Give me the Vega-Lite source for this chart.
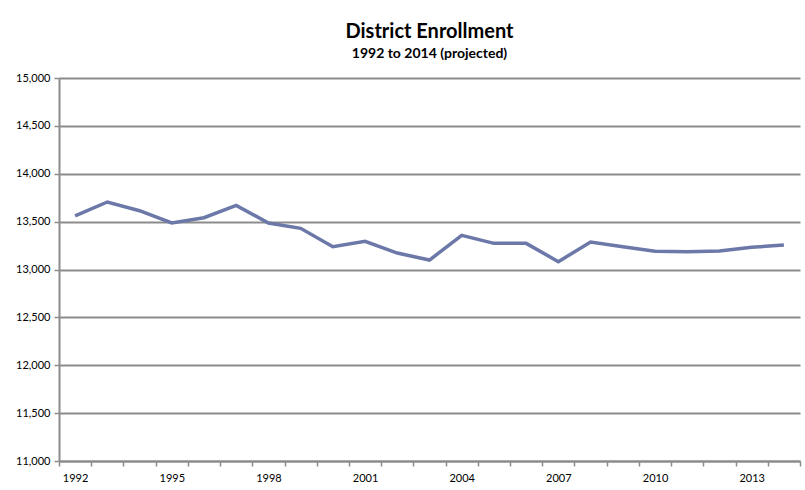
{
  "$schema": "https://vega.github.io/schema/vega-lite/v6.json",
  "width": 741,
  "height": 383,
  "autosize": {"type": "none"},
  "padding": {"left": 59, "top": 78, "right": 5, "bottom": 29},
  "background": "white",
  "title": {
    "text": "District Enrollment",
    "subtitle": "1992 to 2014 (projected)",
    "anchor": "middle",
    "font": "Lato",
    "fontSize": 20,
    "fontWeight": "bold",
    "color": "#000000",
    "subtitleFont": "Lato",
    "subtitleFontSize": 14,
    "subtitleFontWeight": "bold",
    "subtitleColor": "#000000",
    "subtitlePadding": 5,
    "offset": 11
  },
  "data": {
    "values": [
      {"Year": 1992, "Enrollment": 13560},
      {"Year": 1993, "Enrollment": 13705},
      {"Year": 1994, "Enrollment": 13614},
      {"Year": 1995, "Enrollment": 13486},
      {"Year": 1996, "Enrollment": 13541},
      {"Year": 1997, "Enrollment": 13670},
      {"Year": 1998, "Enrollment": 13486},
      {"Year": 1999, "Enrollment": 13430},
      {"Year": 2000, "Enrollment": 13238},
      {"Year": 2001, "Enrollment": 13294},
      {"Year": 2002, "Enrollment": 13172},
      {"Year": 2003, "Enrollment": 13099},
      {"Year": 2004, "Enrollment": 13357},
      {"Year": 2005, "Enrollment": 13273},
      {"Year": 2006, "Enrollment": 13273},
      {"Year": 2007, "Enrollment": 13082},
      {"Year": 2008, "Enrollment": 13287},
      {"Year": 2009, "Enrollment": 13238},
      {"Year": 2010, "Enrollment": 13190},
      {"Year": 2011, "Enrollment": 13185},
      {"Year": 2012, "Enrollment": 13193},
      {"Year": 2013, "Enrollment": 13232},
      {"Year": 2014, "Enrollment": 13256}
    ]
  },
  "mark": {"type": "line", "color": "#6b78a8", "strokeWidth": 3.5, "strokeJoin": "miter"},
  "encoding": {
    "x": {
      "field": "Year",
      "type": "ordinal",
      "scale": {"type": "band", "paddingInner": 0, "paddingOuter": 0},
      "axis": {
        "title": null,
        "labelAngle": 0,
        "tickBand": "extent",
        "labelExpr": "(datum.value - 1992) % 3 == 0 ? datum.label : ''",
        "domainColor": "#8c8c8c",
        "domainWidth": 2,
        "tickColor": "#8c8c8c",
        "tickWidth": 1.5,
        "tickSize": 5,
        "labelFont": "Lato",
        "labelFontSize": 11,
        "labelColor": "#000000",
        "labelPadding": 6,
        "grid": false
      }
    },
    "y": {
      "field": "Enrollment",
      "type": "quantitative",
      "scale": {"domain": [11000, 15000], "nice": false, "zero": false},
      "axis": {
        "title": null,
        "values": [11000, 11500, 12000, 12500, 13000, 13500, 14000, 14500, 15000],
        "format": ",d",
        "grid": true,
        "gridColor": "#8c8c8c",
        "gridWidth": 2,
        "domainColor": "#8c8c8c",
        "domainWidth": 2,
        "tickColor": "#8c8c8c",
        "tickWidth": 1.5,
        "tickSize": 5,
        "labelFont": "Lato",
        "labelFontSize": 11,
        "labelColor": "#000000",
        "labelPadding": 4
      }
    }
  },
  "config": {"view": {"stroke": null}}
}
